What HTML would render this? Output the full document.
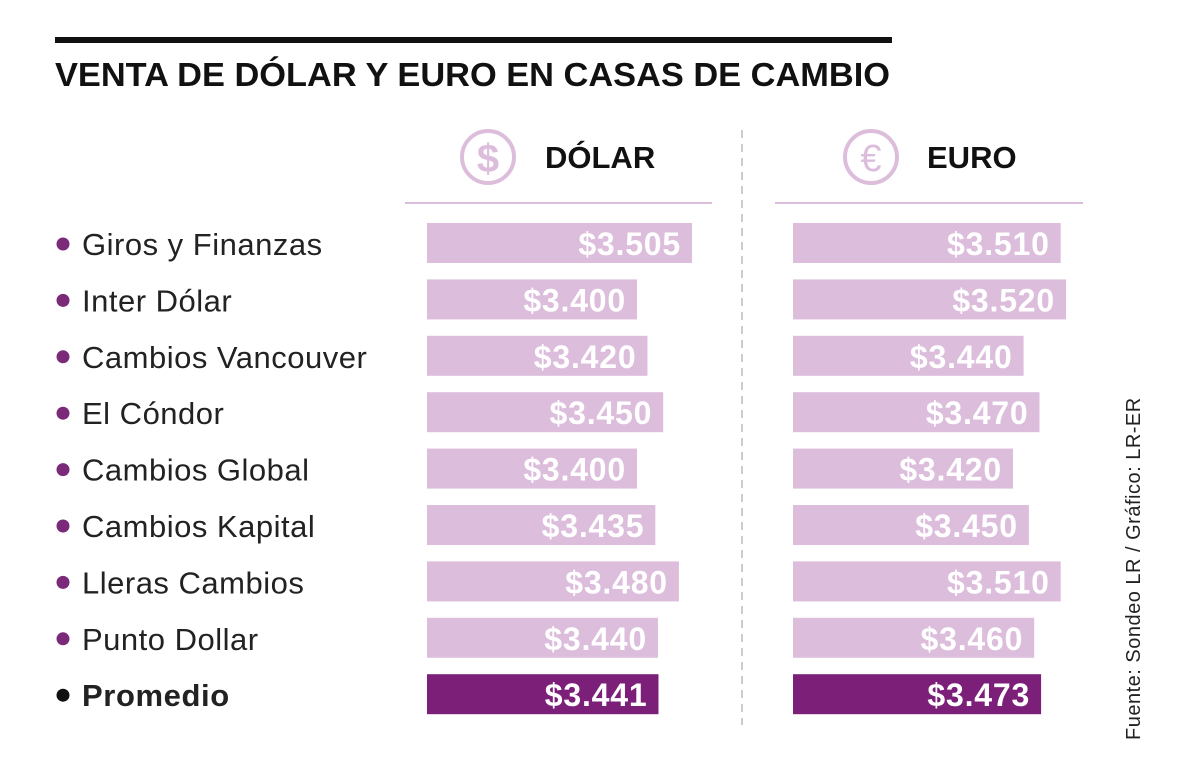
<!DOCTYPE html>
<html><head><meta charset="utf-8"><style>
body{margin:0;background:#fff;}
svg{display:block;font-family:"Liberation Sans",sans-serif;}
</style></head><body>
<svg id="c" width="1200" height="781" viewBox="0 0 1200 781">
<rect x="55" y="37" width="837" height="6" fill="#111"/>
<text x="55" y="86" font-size="33" font-weight="bold" fill="#111" textLength="835" lengthAdjust="spacingAndGlyphs">VENTA DE DÓLAR Y EURO EN CASAS DE CAMBIO</text>
<g>
<circle cx="488" cy="157" r="26" fill="none" stroke="#dcbedc" stroke-width="4"/>
<text x="488" y="172" font-size="40" font-weight="bold" fill="#dcbedc" text-anchor="middle">$</text></g>
<text x="545" y="168" font-size="31" font-weight="bold" fill="#111">DÓLAR</text>
<g>
<circle cx="871" cy="157" r="26" fill="none" stroke="#dcbedc" stroke-width="4"/>
<text x="871" y="171" font-size="38" fill="#dcbedc" text-anchor="middle">€</text></g>
<text x="927" y="168" font-size="31" font-weight="bold" fill="#111">EURO</text>
<line x1="405" y1="203" x2="712" y2="203" stroke="#dcbedc" stroke-width="2"/>
<line x1="775" y1="203" x2="1083" y2="203" stroke="#dcbedc" stroke-width="2"/>
<line x1="742" y1="130" x2="742" y2="725" stroke="#bbb" stroke-width="1.5" stroke-dasharray="8,6"/>
<text transform="translate(1140,740) rotate(-90)" font-size="20" fill="#222" letter-spacing="0.5">Fuente: Sondeo LR / Gráfico: LR-ER</text>
<g id="rows"></g>
</svg>
<script>
const categories=["Giros y Finanzas","Inter Dólar","Cambios Vancouver","El Cóndor","Cambios Global","Cambios Kapital","Lleras Cambios","Punto Dollar","Promedio"];
const dolarValues=[3505,3400,3420,3450,3400,3435,3480,3440,3441];
const euroValues=[3510,3520,3440,3470,3420,3450,3510,3460,3473];
const dolarLabels=["$3.505","$3.400","$3.420","$3.450","$3.400","$3.435","$3.480","$3.440","$3.441"];
const euroLabels=["$3.510","$3.520","$3.440","$3.470","$3.420","$3.450","$3.510","$3.460","$3.473"];
const xD=v=>637+(v-3400)*0.524, xE=v=>1013+(v-3420)*0.53;
const yRow=i=>223+i*56.4;
const ns="http://www.w3.org/2000/svg", g=document.getElementById('rows');
function mk(t,a,txt){const e=document.createElementNS(ns,t);for(const k in a)e.setAttribute(k,a[k]);if(txt!==undefined)e.textContent=txt;g.appendChild(e);return e;}
categories.forEach((c,i)=>{
 const last=i===categories.length-1, y=yRow(i), fill=last?"#7b1f78":"#dcbedc";
 const b=mk('circle',{cx:63,cy:y+21,r:6.5,fill:last?"#111":"#7b2a7a"});
 
 
 const l=mk('text',{x:82,y:y+32,'font-size':31,fill:"#222",'letter-spacing':last?0.6:0.5,'font-weight':last?'bold':'normal'},c);
 
 
 const bd=mk('rect',{x:427,y:y,width:xD(dolarValues[i])-427,height:40,fill:fill});
 
 
 const td=mk('text',{x:xD(dolarValues[i])-11,y:y+32,'font-size':32,'font-weight':'bold',fill:"#fff",'letter-spacing':0.8,'text-anchor':'end'},dolarLabels[i]);
 
 
 const be=mk('rect',{x:793,y:y,width:xE(euroValues[i])-793,height:40,fill:fill});
 
 
 const te=mk('text',{x:xE(euroValues[i])-11,y:y+32,'font-size':32,'font-weight':'bold',fill:"#fff",'letter-spacing':0.8,'text-anchor':'end'},euroLabels[i]);
 
 
});
</script>
</body></html>
